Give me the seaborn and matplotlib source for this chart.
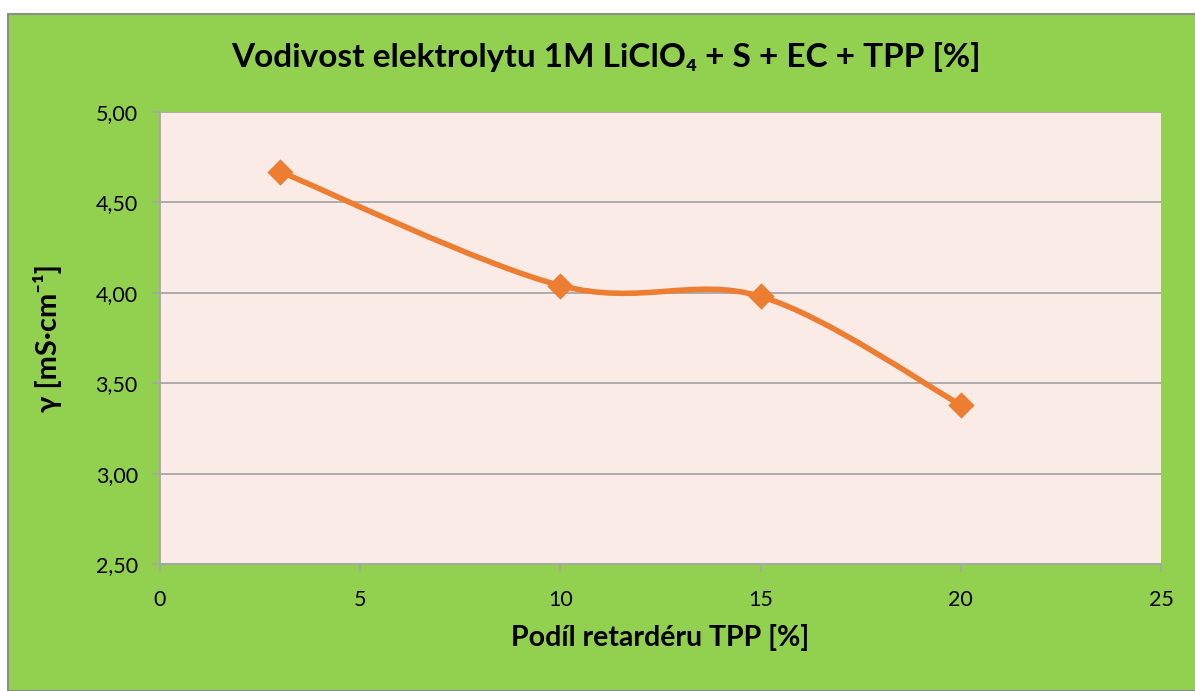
import numpy as np
import pandas as pd
import seaborn as sns
import matplotlib.pyplot as plt
from matplotlib.path import Path
from matplotlib.patches import PathPatch, Rectangle
from matplotlib.ticker import FuncFormatter

# data
tpp = [3, 10, 15, 20]
conductivity = [4.67, 4.04, 3.98, 3.38]

title_text = "Vodivost elektrolytu 1M LiClO₄ + S + EC + TPP [%]"
x_label = "Podíl retardéru TPP [%]"
y_label = "γ [mS·cm⁻¹]"

green = "#92D050"
pink = "#FBEBE7"
orange = "#ED7D31"

sns.set_theme(style="white")
plt.rcParams['font.family'] = ['Lato', 'DejaVu Sans']
plt.rcParams['text.color'] = 'black'
plt.rcParams['axes.labelcolor'] = 'black'

data = pd.DataFrame({"tpp": tpp, "g": conductivity})

fig = plt.figure(figsize=(11.95, 6.91), dpi=100, facecolor="white")
# green chart area with thin grey frame
fig.patches.append(Rectangle((8 / 1195, 0), 1.2, (691 - 14) / 691, transform=fig.transFigure,
                             facecolor=green, edgecolor="#8C8C8C", linewidth=1.5, zorder=-5))

ax = fig.add_axes([160 / 1195, (691 - 564) / 691, 1001 / 1195, 452 / 691])
ax.set_facecolor(pink)

# smoothed line (Catmull-Rom style bezier through the points, like Excel)
pts = np.column_stack([tpp, conductivity])
verts = [pts[0]]
codes = [Path.MOVETO]
for i in range(len(pts) - 1):
    p0 = pts[i - 1] if i > 0 else pts[i]
    p1 = pts[i]
    p2 = pts[i + 1]
    p3 = pts[i + 2] if i + 2 < len(pts) else pts[i + 1]
    c1 = p1 + (p2 - p0) / 6
    c2 = p2 - (p3 - p1) / 6
    verts += [c1, c2, p2]
    codes += [Path.CURVE4] * 3
ax.add_patch(PathPatch(Path(verts, codes), facecolor="none", edgecolor=orange,
                       linewidth=4.0, capstyle="round", joinstyle="round", zorder=3))

sns.scatterplot(data=data, x="tpp", y="g", marker="D", s=180, color=orange,
                edgecolor=orange, linewidth=0, ax=ax, zorder=4)

ax.set_xlim(0, 25)
ax.set_ylim(2.5, 5.0)
ax.set_xticks([0, 5, 10, 15, 20, 25])
ax.set_yticks([2.5, 3.0, 3.5, 4.0, 4.5, 5.0])
ax.yaxis.set_major_formatter(FuncFormatter(lambda v, p: f"{v:.2f}".replace(".", ",")))
ax.grid(axis="y", color="#A6A6A6", linewidth=1.3)
ax.set_axisbelow(True)

for s in ["top", "right"]:
    ax.spines[s].set_visible(False)
for s in ["left", "bottom"]:
    ax.spines[s].set_color("#A6A6A6")
    ax.spines[s].set_linewidth(1.3)

ax.tick_params(axis="both", which="major", length=6, width=1.2, color="#A6A6A6",
               labelsize=15.5, labelcolor="black", direction="out")
ax.tick_params(axis="x", pad=13, bottom=True)
ax.tick_params(axis="y", pad=10, left=True)

ax.set_xlabel(x_label, fontsize=20.5, fontweight="bold", labelpad=10)
ax.set_ylabel(y_label, fontsize=21, fontweight="bold", labelpad=24)

fig.text(0.507, 0.917, title_text, ha="center", va="center", fontsize=24,
         fontweight="bold", color="black")

fig.savefig("out.png", dpi=100)
